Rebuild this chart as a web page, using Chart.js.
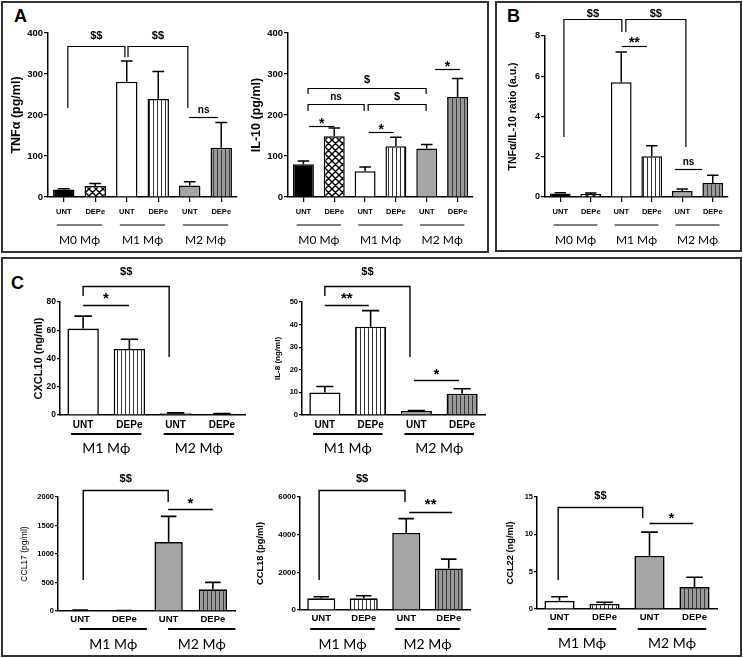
<!DOCTYPE html>
<html><head><meta charset="utf-8">
<script src="https://cdn.jsdelivr.net/npm/chart.js@4.4.1/dist/chart.umd.min.js"></script>
<style>
html,body{margin:0;padding:0;background:#fff;}
#wrap{position:relative;width:743px;height:658px;overflow:hidden;background:#fff;}
.panel{position:absolute;border:2px solid #333;box-sizing:border-box;}
.letter{position:absolute;font:bold 18px 'Liberation Sans',Arial,sans-serif;line-height:18px;color:#000;}
canvas{position:absolute;}
</style></head><body>
<div id="wrap">
 <div class="panel" style="left:1px;top:1px;width:488px;height:252px"></div>
 <div class="panel" style="left:495px;top:1px;width:247px;height:251px"></div>
 <div class="panel" style="left:1px;top:257px;width:741px;height:400px"></div>
 <div class="letter" style="left:14px;top:7px">A</div>
 <div class="letter" style="left:507px;top:7px">B</div>
 <div class="letter" style="left:11px;top:274px">C</div>
</div>
<script>
// ---------- data ----------
const catA = ['UNT','DEPe','UNT','DEPe','UNT','DEPe'];
const groupsA = ['M0 M\u03D5','M1 M\u03D5','M2 M\u03D5'];
const catC = ['UNT','DEPe','UNT','DEPe'];
const groupsC = ['M1 M\u03D5','M2 M\u03D5'];

const tnfMean = [18, 27, 281, 239, 28, 120];
const tnfSem  = [2, 6, 51, 67, 9, 62];
const tnfTicks = [0, 100, 200, 300, 400];

const il10Mean = [80, 148, 63, 124, 118, 244];
const il10Sem  = [8, 20, 10, 22, 10, 45];
const il10Ticks = [0, 100, 200, 300, 400];

const ratioMean = [0.18, 0.15, 5.7, 2.03, 0.3, 0.7];
const ratioSem  = [0.03, 0.05, 1.5, 0.52, 0.1, 0.38];
const ratioTicks = [0, 2, 4, 6, 8];

const cxcl10Mean = [61.2, 46.8, 1.2, 0.8];
const cxcl10Sem  = [8.8, 6.8, 0.3, 0.2];
const cxcl10Ticks = [0, 20, 40, 60, 80];

const il8Mean = [10, 39.1, 1.8, 9.4];
const il8Sem  = [2.6, 7.1, 0.2, 2.2];
const il8Ticks = [0, 10, 20, 30, 40, 50];

const ccl17Mean = [15, 8, 1210, 380];
const ccl17Sem  = [3, 2, 450, 123];
const ccl17Ticks = [0, 500, 1000, 1500, 2000];

const ccl18Mean = [618, 618, 4094, 2206];
const ccl18Sem  = [88, 142, 760, 494];
const ccl18Ticks = [0, 2000, 4000, 6000];

const ccl22Mean = [1.1, 0.67, 7.1, 2.93];
const ccl22Sem  = [0.54, 0.23, 3.2, 1.33];
const ccl22Ticks = [0, 5, 10, 15];

// ---------- styles ----------
const FONT = "'Liberation Sans', Arial, sans-serif";
Chart.defaults.font.family = FONT;
Chart.defaults.color = '#000';

function tile(w, h, draw) {
  const c = document.createElement('canvas'); c.width = w; c.height = h;
  const g = c.getContext('2d'); draw(g, w, h);
  return g.createPattern(c, 'repeat');
}
const GRAY = '#a6a6a6';
const crossHatch = tile(7, 7, (g, w, h) => {
  g.fillStyle = '#fff'; g.fillRect(0, 0, w, h);
  g.strokeStyle = '#000'; g.lineWidth = 1.4;
  g.beginPath(); g.moveTo(0, 0); g.lineTo(w, h); g.moveTo(w, 0); g.lineTo(0, h);
  g.moveTo(-1, h - 1); g.lineTo(1, h + 1); g.stroke();
});
const stripeWhite = tile(4, 8, (g, w, h) => {
  g.fillStyle = '#fff'; g.fillRect(0, 0, w, h);
  g.fillStyle = '#333'; g.fillRect(0, 0, 1, h);
});
const stripeGray = tile(4, 8, (g, w, h) => {
  g.fillStyle = '#999'; g.fillRect(0, 0, w, h);
  g.fillStyle = '#3a3a3a'; g.fillRect(0, 0, 1, h);
});
const fillsA = ['#000', crossHatch, '#fff', stripeWhite, GRAY, stripeGray];
const fillsC = ['#fff', stripeWhite, GRAY, stripeGray];

const glyphMid = {'$': 0.36, '$$': 0.36, 'ns': 0.26, '*': 0.57, '**': 0.57};

const wrap = document.getElementById('wrap');

function makeChart(s) {
  const cv = document.createElement('canvas');
  const cw = s.cr - s.cl, ch = s.cb - s.ct;
  cv.width = cw; cv.height = ch;
  cv.style.left = s.cl + 'px'; cv.style.top = s.ct + 'px';
  cv.style.width = cw + 'px'; cv.style.height = ch + 'px';
  wrap.appendChild(cv);
  const yw = s.axisX - s.cl;
  const padTop = s.yTop - s.ct;
  const padRight = s.cr - s.axisR;
  const padBottom = s.cb - s.yBot - s.xh;
  const max = s.ticks[s.ticks.length - 1];

  const plugin = {
    id: 'extras',
    afterDatasetsDraw(chart) {
      const ctx = chart.ctx, y = chart.scales.y;
      const meta = chart.getDatasetMeta(0);
      ctx.save();
      ctx.strokeStyle = '#000'; ctx.lineWidth = s.ebw;
      meta.data.forEach((bar, i) => {
        const top = y.getPixelForValue(s.mean[i] + s.sem[i]);
        const w = bar.width * 0.55;
        ctx.beginPath();
        ctx.moveTo(bar.x, bar.y); ctx.lineTo(bar.x, top);
        ctx.moveTo(bar.x - w / 2, top); ctx.lineTo(bar.x + w / 2, top);
        ctx.stroke();
      });
      ctx.restore();
    },
    afterDraw(chart) {
      const ctx = chart.ctx, xs = chart.scales.x, ys = chart.scales.y;
      const px = v => xs.getPixelForValue(v);
      const py = v => ys.getPixelForValue(v);
      ctx.save();
      ctx.strokeStyle = '#000'; ctx.fillStyle = '#000';
      ctx.lineWidth = s.alw;
      ctx.textAlign = 'center'; ctx.textBaseline = 'alphabetic';
      s.ann.forEach(a => {
        const x1 = px(a.x1), x2 = px(a.x2), yy = Math.round(py(a.y)) + 0.5;
        ctx.beginPath();
        if (a.t === 'b') {
          ctx.moveTo(x1, py(a.l1)); ctx.lineTo(x1, yy); ctx.lineTo(x2, yy); ctx.lineTo(x2, py(a.l2));
        } else {
          ctx.moveTo(x1, yy); ctx.lineTo(x2, yy);
        }
        ctx.stroke();
        const fs = (a.text === '*' || a.text === '**') ? s.starSize : (a.text === 'ns' ? s.nsSize : s.dolSize);
        ctx.font = 'bold ' + fs + 'px ' + FONT;
        ctx.fillText(a.text, (x1 + x2) / 2, yy - a.dy + glyphMid[a.text] * fs);
      });
      // group lines and labels
      const bottom = chart.chartArea.bottom;
      const cwid = px(1) - px(0);
      ctx.font = s.groupFont;
      ctx.textBaseline = 'middle';
      s.groups.forEach((g, k) => {
        const c = px(2 * k + 0.5) + (s.groupShift || 0);
        const hw = cwid * s.groupHW;
        ctx.lineWidth = s.glw;
        ctx.beginPath();
        ctx.moveTo(c - hw, bottom + s.gLineDy); ctx.lineTo(c + hw, bottom + s.gLineDy);
        ctx.stroke();
        ctx.fillText(g, c, bottom + s.gLabelDy);
      });
      ctx.restore();
    }
  };

  new Chart(cv, {
    type: 'bar',
    data: {
      labels: s.labels,
      datasets: [{
        data: s.mean,
        backgroundColor: s.fills,
        borderColor: '#000',
        borderWidth: s.bbw,
        barPercentage: s.barPct,
        categoryPercentage: 1
      }]
    },
    options: {
      responsive: false, animation: false, devicePixelRatio: 1,
      events: [],
      layout: { padding: { top: padTop, right: padRight, bottom: padBottom, left: 0 } },
      plugins: { legend: { display: false }, tooltip: { enabled: false } },
      scales: {
        x: {
          offset: true,
          grid: s.xTickLen ? { display: true, drawOnChartArea: false, drawTicks: true, tickLength: s.xTickLen, offset: false, color: '#000', lineWidth: 1.2 }
                           : { display: false, drawTicks: false },
          border: { display: true, color: '#000', width: s.axw },
          ticks: { font: { size: s.xFont, weight: 'bold' }, color: '#000', padding: s.xPad, maxRotation: 0, autoSkip: false },
          afterFit: sc => { sc.height = s.xh; }
        },
        y: {
          min: 0, max: max,
          afterBuildTicks: sc => { sc.ticks = s.ticks.map(v => ({ value: v })); },
          grid: { display: true, drawOnChartArea: false, drawTicks: true, tickLength: s.yTickLen, color: '#000', lineWidth: 1.2 },
          border: { display: true, color: '#000', width: s.axw },
          ticks: { font: { size: s.yFont, weight: 'bold' }, color: '#000', padding: 1, callback: v => String(v) },
          title: { display: true, text: s.title, color: '#000',
                   font: { size: s.titleSize, weight: s.titleWeight || 'bold' },
                   padding: { top: s.titleX - s.cl - 0.6 * s.titleSize, bottom: 0 } },
          afterFit: sc => { sc.width = yw; }
        }
      }
    },
    plugins: [plugin]
  });
}

const baseA = {
  labels: catA, groups: groupsA, fills: fillsA, barPct: 0.68, bbw: 1.5, ebw: 1.5, alw: 1.2, axw: 1.5,
  xFont: 7.5, xPad: 5, xTickLen: 5, xh: 20, yFont: 9.5, yTickLen: 4, titleSize: 12.5,
  starSize: 14, nsSize: 10, dolSize: 11,
  groupFont: '12px Lato, "Noto Sans", sans-serif', groupHW: 0.72, glw: 1, gLineDy: 28, gLabelDy: 43
};
const baseC = {
  labels: catC, groups: groupsC, fills: fillsC, barPct: 0.68, bbw: 1.6, ebw: 1.6, alw: 1.4, axw: 1.5,
  xFont: 10, xPad: 4, xTickLen: 0, xh: 18, yFont: 8, yTickLen: 3, titleSize: 9.3,
  starSize: 15, nsSize: 10, dolSize: 11,
  groupFont: '14px Lato, "Noto Sans", sans-serif', groupHW: 0.76, glw: 2, gLineDy: 19, gLabelDy: 33
};

makeChart(Object.assign({}, baseA, {
  cl: 5, ct: 0, cr: 245, cb: 250, axisX: 48, axisR: 237, yTop: 33, yBot: 197, titleX: 17,
  mean: tnfMean, sem: tnfSem, ticks: tnfTicks, title: 'TNF\u03B1 (pg/ml)',
  ann: [
    {t: 'b', x1: 0.13, x2: 1.94, y: 368, l1: 217, l2: 341, text: '$$', dy: 11},
    {t: 'b', x1: 2.04, x2: 3.94, y: 368, l1: 341, l2: 217, text: '$$', dy: 11},
    {t: 'l', x1: 3.98, x2: 4.9, y: 195, text: 'ns', dy: 7}
  ]
}));
makeChart(Object.assign({}, baseA, {
  cl: 248, ct: 0, cr: 485, cb: 250, axisX: 288, axisR: 473, yTop: 33, yBot: 197, titleX: 257,
  mean: il10Mean, sem: il10Sem, ticks: il10Ticks, title: 'IL-10 (pg/ml)',
  ann: [
    {t: 'b', x1: 0.15, x2: 3.98, y: 266, l1: 251, l2: 251, text: '$', dy: 9},
    {t: 'b', x1: 0.15, x2: 1.97, y: 227, l1: 210, l2: 210, text: 'ns', dy: 7},
    {t: 'b', x1: 2.1, x2: 3.98, y: 227, l1: 210, l2: 210, text: '$', dy: 8},
    {t: 'l', x1: 0.18, x2: 1.0, y: 173, text: '*', dy: 6.5},
    {t: 'l', x1: 2.12, x2: 2.93, y: 159, text: '*', dy: 6.5},
    {t: 'l', x1: 4.27, x2: 5.08, y: 312, text: '*', dy: 6.5}
  ]
}));
makeChart(Object.assign({}, baseA, {
  cl: 503, ct: 0, cr: 738, cb: 250, axisX: 545, axisR: 728, yTop: 36, yBot: 197, titleX: 513,
  mean: ratioMean, sem: ratioSem, ticks: ratioTicks, title: 'TNF\u03B1/IL-10 ratio (a.u.)', titleSize: 10.5, yFont: 9,
  ann: [
    {t: 'b', x1: 0.12, x2: 2.02, y: 8.84, l1: 2.98, l2: 8.2, text: '$$', dy: 6},
    {t: 'b', x1: 2.15, x2: 4.12, y: 8.84, l1: 8.2, l2: 2.48, text: '$$', dy: 6},
    {t: 'l', x1: 2.02, x2: 2.84, y: 7.5, text: '**', dy: 7.5},
    {t: 'l', x1: 3.76, x2: 4.65, y: 1.39, text: 'ns', dy: 7}
  ]
}));
makeChart(Object.assign({}, baseC, {
  cl: 25, ct: 262, cr: 255, cb: 462, axisX: 60, axisR: 245, yTop: 302, yBot: 415, titleX: 39,
  mean: cxcl10Mean, sem: cxcl10Sem, ticks: cxcl10Ticks, title: 'CXCL10 (ng/ml)', titleSize: 11, yFont: 8.5,
  ann: [
    {t: 'b', x1: 0.0, x2: 1.86, y: 91.3, l1: 84.2, l2: 41, text: '$$', dy: 15},
    {t: 'l', x1: 0.0, x2: 0.99, y: 77.9, text: '*', dy: 11}
  ]
}));
makeChart(Object.assign({}, baseC, {
  cl: 268, ct: 262, cr: 495, cb: 462, axisX: 302, axisR: 485, yTop: 302, yBot: 415, titleX: 278,
  mean: il8Mean, sem: il8Sem, ticks: il8Ticks, title: 'IL-8 (ng/ml)', titleSize: 8, yFont: 7.5,
  ann: [
    {t: 'b', x1: 0.0, x2: 1.86, y: 57.1, l1: 52.7, l2: 25.7, text: '$$', dy: 15},
    {t: 'l', x1: 0.0, x2: 0.96, y: 48.7, text: '**', dy: 11},
    {t: 'l', x1: 1.95, x2: 2.93, y: 15.5, text: '*', dy: 10}
  ]
}));
makeChart(Object.assign({}, baseC, {
  cl: 15, ct: 470, cr: 240, cb: 656, axisX: 58, axisR: 235, yTop: 497, yBot: 611, titleX: 25,
  mean: ccl17Mean, sem: ccl17Sem, ticks: ccl17Ticks, title: 'CCL17 (pg/ml)', titleSize: 8.5, titleWeight: 'normal',
  yFont: 7.5, xFont: 9.5, xPad: 3, barPct: 0.64, gLineDy: 18, gLabelDy: 33, groupShift: 11,
  ann: [
    {t: 'b', x1: 0.07, x2: 1.99, y: 2123, l1: 544, l2: 1912, text: '$$', dy: 12},
    {t: 'l', x1: 1.99, x2: 3.0, y: 1789, text: '*', dy: 10}
  ]
}));
makeChart(Object.assign({}, baseC, {
  cl: 250, ct: 470, cr: 480, cb: 656, axisX: 300, axisR: 470, yTop: 497, yBot: 610, titleX: 260,
  mean: ccl18Mean, sem: ccl18Sem, ticks: ccl18Ticks, title: 'CCL18 (pg/ml)',
  yFont: 8, xFont: 9.5, xPad: 3, barPct: 0.66, gLineDy: 19, gLabelDy: 34,
  ann: [
    {t: 'b', x1: -0.05, x2: 1.97, y: 6372, l1: 1593, l2: 5735, text: '$$', dy: 12},
    {t: 'l', x1: 2.07, x2: 3.08, y: 5204, text: '**', dy: 12}
  ]
}));
makeChart(Object.assign({}, baseC, {
  cl: 500, ct: 470, cr: 730, cb: 656, axisX: 537, axisR: 717, yTop: 497, yBot: 609, titleX: 510,
  mean: ccl22Mean, sem: ccl22Sem, ticks: ccl22Ticks, title: 'CCL22 (ng/ml)',
  yFont: 7.5, xFont: 9.5, xPad: 3, barPct: 0.67, gLineDy: 20, gLabelDy: 34,
  ann: [
    {t: 'b', x1: -0.03, x2: 1.85, y: 13.66, l1: 3.88, l2: 12.19, text: '$$', dy: 12},
    {t: 'l', x1: 2.0, x2: 2.97, y: 11.52, text: '*', dy: 9}
  ]
}));
</script>
</body></html>
